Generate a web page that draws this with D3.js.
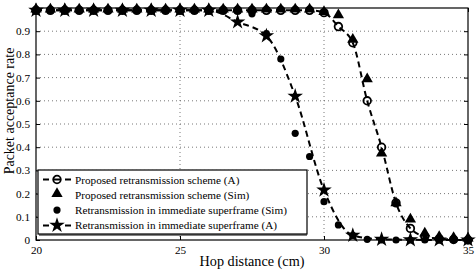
<!DOCTYPE html>
<html>
<head>
<meta charset="utf-8">
<script src="https://cdn.jsdelivr.net/npm/d3@7"></script>
<style>
  body { margin: 0; background: #fff; }
  text { font-family: "Liberation Serif", "Times New Roman", serif; fill: #000; }
</style>
</head>
<body>
<svg id="chart" width="476" height="270"></svg>
<script>
// hop distance (cm), half-cm steps
const hopHalf = [20, 20.5, 21, 21.5, 22, 22.5, 23, 23.5, 24, 24.5, 25, 25.5, 26, 26.5, 27, 27.5,
    28, 28.5, 29, 29.5, 30, 30.5, 31, 31.5, 32, 32.5, 33, 33.5, 34, 34.5, 35];
// hop distance (cm), whole-cm steps
const hopWhole = [20, 21, 22, 23, 24, 25, 26, 27, 28, 29, 30, 31, 32, 33, 34, 35];

// Proposed retransmission scheme (A)
const proposedA = [0.99, 0.99, 0.99, 0.99, 0.99, 0.99, 0.99, 0.99, 0.99, 0.99, 0.99, 0.99, 0.99, 0.99, 0.99, 0.99,
    0.99, 0.99, 0.99, 0.99, 0.98, 0.92, 0.85, 0.60, 0.40, 0.16, 0.05, 0.015, 0.005, 0.002, 0.0];
// Proposed retransmission scheme (Sim)
const proposedSim = [0.99, 0.99, 0.99, 0.99, 0.99, 0.99, 0.99, 0.99, 0.99, 0.99, 0.99, 0.99, 0.99, 0.99, 0.99, 0.99,
    0.99, 0.99, 0.99, 0.99, 0.98, 0.965, 0.86, 0.69, 0.37, 0.155, 0.085, 0.025, 0.01, 0.005, 0.003];
// Retransmission in immediate superframe (Sim)
const immediateSim = [0.99, 0.99, 0.99, 0.99, 0.99, 0.99, 0.99, 0.99, 0.99, 0.99, 0.99, 0.99, 0.99, 0.99, 0.99, 0.975,
    0.89, 0.78, 0.46, 0.36, 0.165, 0.065, 0.02, 0.003, 0.0, 0.0, 0.0, 0.0, 0.0, 0.0, 0.0];
// Retransmission in immediate superframe (A)
const immediateA = [0.99, 0.99, 0.99, 0.99, 0.99, 0.99, 0.99, 0.94, 0.88, 0.62, 0.215, 0.02, 0.003, 0.001, 0.0, 0.0];

const yTicks = [0, 0.1, 0.2, 0.3, 0.4, 0.5, 0.6, 0.7, 0.8, 0.9];
const xTicks = [20, 25, 30, 35];
const legendLabels = [
    "Proposed retransmission scheme (A)",
    "Proposed retransmission scheme (Sim)",
    "Retransmission in immediate superframe (Sim)",
    "Retransmission in immediate superframe (A)"
];

const svg = d3.select("svg#chart");
const margin = { top: 8, right: 8, bottom: 30, left: 36 };
const width = +svg.attr("width");
const height = +svg.attr("height");
const chartWidth = width - margin.left - margin.right;
const chartHeight = height - margin.top - margin.bottom;

const xScale = d3.scaleLinear().domain([20, 35]).range([0, chartWidth]);
const yScale = d3.scaleLinear().domain([0, 1]).range([chartHeight, 0]);

const plot = svg.append("g").attr("transform", `translate(${margin.left},${margin.top})`);

//gridlines
plot.append("g").selectAll("line")
    .data(yTicks.filter(d => d > 0))
    .join("line")
    .attr("x1", 0).attr("x2", chartWidth)
    .attr("y1", d => yScale(d)).attr("y2", d => yScale(d))
    .attr("stroke", "#555").attr("stroke-width", 0.8)
    .attr("stroke-dasharray", "1,3");
plot.append("g").selectAll("line")
    .data(xTicks.filter(d => d > 20 && d < 35))
    .join("line")
    .attr("y1", 0).attr("y2", chartHeight)
    .attr("x1", d => xScale(d)).attr("x2", d => xScale(d))
    .attr("stroke", "#555").attr("stroke-width", 0.8)
    .attr("stroke-dasharray", "1,3");

//axes (ticks inward)
const axisFont = g => g.selectAll("text")
    .style("font-size", "11.2px")
    .style("font-family", "Liberation Serif, serif");
plot.append("g")
    .call(d3.axisLeft(yScale).tickValues(yTicks).tickSize(-4).tickPadding(6).tickFormat(d3.format("")))
    .call(g => g.select(".domain").remove())
    .call(axisFont);
plot.append("g")
    .attr("transform", `translate(${chartWidth},0)`)
    .call(d3.axisRight(yScale).tickValues(yTicks).tickSize(-4).tickFormat(""))
    .call(g => g.select(".domain").remove());
plot.append("g")
    .attr("transform", `translate(0,${chartHeight})`)
    .call(d3.axisBottom(xScale).tickValues(xTicks).tickSize(-4).tickPadding(6).tickFormat(d3.format("d")))
    .call(g => g.select(".domain").remove())
    .call(axisFont);
plot.append("g")
    .call(d3.axisTop(xScale).tickValues(xTicks).tickSize(-4).tickFormat(""))
    .call(g => g.select(".domain").remove());

plot.append("rect")
    .attr("width", chartWidth).attr("height", chartHeight)
    .attr("fill", "none").attr("stroke", "#000").attr("stroke-width", 1.2);

//lines
const lineGen = d3.line()
    .x(d => xScale(d[0]))
    .y(d => yScale(d[1]))
    .curve(d3.curveMonotoneX);

const propA = hopHalf.map((x, i) => [x, proposedA[i]]);
const propSim = hopHalf.map((x, i) => [x, proposedSim[i]]);
const immSim = hopHalf.map((x, i) => [x, immediateSim[i]]);
const immA = hopWhole.map((x, i) => [x, immediateA[i]]);

plot.append("path").datum(propA)
    .attr("fill", "none").attr("stroke", "#000").attr("stroke-width", 2)
    .attr("stroke-dasharray", "6,4").attr("d", lineGen);
plot.append("path").datum(immA)
    .attr("fill", "none").attr("stroke", "#000").attr("stroke-width", 2)
    .attr("stroke-dasharray", "6,4").attr("d", lineGen);

//markers
const triangle = d3.symbol().type(d3.symbolTriangle).size(55);
const star = d3.symbol().type(d3.symbolStar).size(75);

plot.append("g").selectAll("circle")
    .data(immSim)
    .join("circle")
    .attr("cx", d => xScale(d[0])).attr("cy", d => yScale(d[1]))
    .attr("r", 3.6).attr("fill", "#000");
plot.append("g").selectAll("circle")
    .data(propA)
    .join("circle")
    .attr("cx", d => xScale(d[0])).attr("cy", d => yScale(d[1]))
    .attr("r", 3.8).attr("fill", "none").attr("stroke", "#000").attr("stroke-width", 1.8);
plot.append("g").selectAll("path")
    .data(propSim)
    .join("path")
    .attr("transform", d => `translate(${xScale(d[0])},${yScale(d[1]) - 1})`)
    .attr("d", triangle).attr("fill", "#000");
plot.append("g").selectAll("path")
    .data(immA)
    .join("path")
    .attr("transform", d => `translate(${xScale(d[0])},${yScale(d[1])})`)
    .attr("d", star).attr("fill", "#000");

//legend
const legend = svg.append("g").attr("transform", "translate(38,170)");
legend.append("rect")
    .attr("width", 269).attr("height", 64)
    .attr("fill", "#fff").attr("stroke", "#000").attr("stroke-width", 1.2);
legend.append("line")
    .attr("x1", 1).attr("x2", 269).attr("y1", 65).attr("y2", 65)
    .attr("stroke", "#000").attr("stroke-width", 1);

const rowY = d => 9.5 + d * 15.3;
legendLabels.forEach((label, i) => {
    const y = rowY(i);
    if (i === 0 || i === 3) {
        legend.append("line")
            .attr("x1", 5).attr("x2", 33).attr("y1", y).attr("y2", y)
            .attr("stroke", "#000").attr("stroke-width", 2).attr("stroke-dasharray", "6,5");
    }
    const cx = 19;
    if (i === 0) {
        legend.append("circle").attr("cx", cx).attr("cy", y).attr("r", 3.8)
            .attr("fill", "none").attr("stroke", "#000").attr("stroke-width", 1.8);
    } else if (i === 1) {
        legend.append("path").attr("transform", `translate(${cx},${y - 1})`)
            .attr("d", triangle).attr("fill", "#000");
    } else if (i === 2) {
        legend.append("circle").attr("cx", cx).attr("cy", y).attr("r", 3.6).attr("fill", "#000");
    } else {
        legend.append("path").attr("transform", `translate(${cx},${y})`)
            .attr("d", star).attr("fill", "#000");
    }
    legend.append("text")
        .attr("x", 37).attr("y", y)
        .attr("dominant-baseline", "central")
        .style("font-size", "11.2px")
        .text(label);
});

//axis titles
svg.append("text")
    .attr("x", margin.left + chartWidth / 2).attr("y", 266)
    .attr("text-anchor", "middle")
    .style("font-size", "14.2px")
    .text("Hop distance (cm)");
svg.append("text")
    .attr("transform", "translate(9,111) rotate(-90)")
    .attr("text-anchor", "middle")
    .attr("dominant-baseline", "central")
    .style("font-size", "14px")
    .text("Packet acceptance rate");
</script>
</body>
</html>
